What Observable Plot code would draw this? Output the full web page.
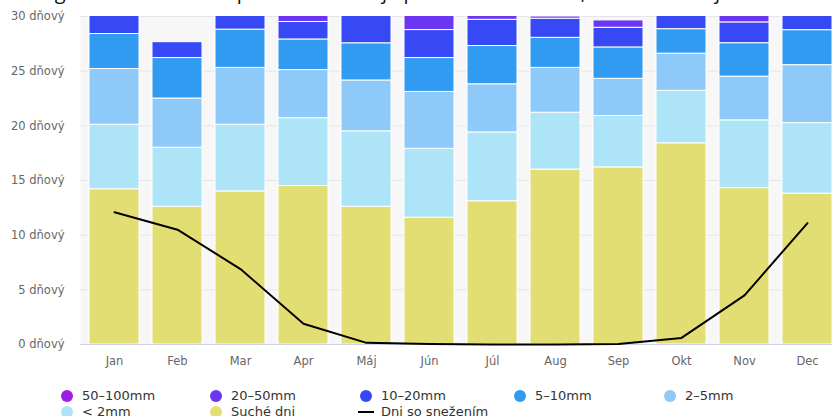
<!DOCTYPE html>
<html><head><meta charset="utf-8">
<script src="https://cdn.jsdelivr.net/npm/d3@7"></script>
<script src="https://cdn.jsdelivr.net/npm/@observablehq/plot@0.6"></script>
<style>
html,body{margin:0;padding:0;background:#fff;overflow:hidden;width:832px;height:416px;}
#wrap{position:relative;width:832px;height:416px;overflow:hidden;font-family:"DejaVu Sans",sans-serif;}
#title{position:absolute;left:24px;top:-20px;font-family:"Open Sans",sans-serif;font-size:20px;line-height:24px;white-space:nowrap;color:#111;}
#chart{position:absolute;left:0;top:0;}
#chart svg{max-width:none !important;}
.item{position:absolute;font-size:13px;line-height:15px;color:#333;white-space:nowrap;}
.sym{position:absolute;}
</style>
</head><body>
<div id="wrap">
  <div id="title">Diagram úhrnu zrážok pre Nitru ukazuje počet dní v mesiaci, ktoré dosahujú určité množstvo zrážok</div>
  <div id="chart"></div>
  <div id="legend"></div>
</div>
<script>
const months = ["Jan","Feb","Mar","Apr","Máj","Jún","Júl","Aug","Sep","Okt","Nov","Dec"];
const seriesNames = ["Suché dni","< 2mm","2–5mm","5–10mm","10–20mm","20–50mm","50–100mm"];
const seriesColors = ["#e3de74","#ade4f7","#8dc9f9","#319bf1","#3748f5","#6a35f3","#9b1ee6"];
const dry      = [14.2,12.6,14.0,14.5,12.6,11.6,13.1,16.0,16.2,18.4,14.3,13.8];
const lt2      = [5.9,5.4,6.1,6.2,6.9,6.3,6.3,5.2,4.7,4.8,6.2,6.45];
const mm2_5    = [5.1,4.5,5.2,4.4,4.65,5.2,4.4,4.1,3.4,3.4,4.0,5.3];
const mm5_10   = [3.2,3.7,3.5,2.8,3.4,3.1,3.5,2.75,2.87,2.24,3.06,3.2];
const mm10_20  = [2.6,1.45,2.2,1.6,3.44,2.56,2.4,1.75,1.8,2.16,1.9,2.2];
const mm20_50  = [0,0,0,0.6,0,1.3,1.3,0.2,0.67,0,0.6,0];
const mm50_100 = [0,0,0,0,0,0,0,0,0,0,0,0];
const snowDays = [12.1,10.5,6.9,1.9,0.15,0.05,0,0,0.05,0.6,4.5,11.1];
const yTicks = [0,5,10,15,20,25,30];
const snowLabel = "Dni so snežením";

const seriesValues = [dry, lt2, mm2_5, mm5_10, mm10_20, mm20_50, mm50_100];
const stacked = [];
months.forEach((m, i) => {
  seriesNames.forEach((s, j) => {
    stacked.push({month: m, series: s, value: seriesValues[j][i]});
  });
});
const snowData = months.map((m, i) => ({month: m, snow: snowDays[i]}));

const chart = Plot.plot({
  width: 841,
  height: 380,
  marginLeft: 80,
  marginRight: 0,
  marginTop: 16,
  marginBottom: 36,
  style: {fontFamily: "DejaVu Sans, sans-serif", fontSize: "11.5px", color: "#666", background: "transparent", overflow: "visible", maxWidth: "none"},
  x: {domain: months, paddingInner: 0.2, paddingOuter: 0.11, tickSize: 0, tickPadding: 12, label: null},
  y: {domain: [0, 30], ticks: yTicks, tickFormat: d => d + " dňový", tickSize: 0, tickPadding: 16, label: null},
  color: {domain: seriesNames, range: seriesColors},
  marks: [
    Plot.frame({fill: "#f7f7f7", stroke: "none"}),
    Plot.ruleY(yTicks.slice(1), {stroke: "#e6e6e6"}),
    Plot.barY(stacked, {x: "month", y: "value", fill: "series", z: "series", stroke: "white", strokeWidth: 1, clip: true}),
    Plot.ruleY([0], {stroke: "#ccd6eb"}),
    Plot.line(snowData, {x: "month", y: "snow", stroke: "#000", strokeWidth: 2})
  ]
});
document.getElementById("chart").appendChild(chart);

// legend
const legend = document.getElementById("legend");
const legendOrder = ["50–100mm","20–50mm","10–20mm","5–10mm","2–5mm","< 2mm","Suché dni", snowLabel];
const colX = [67, 216, 366, 520, 670];
const rowY = [396, 411.5];
legendOrder.forEach((name, k) => {
  const cx = colX[k % 5], cy = rowY[Math.floor(k / 5)];
  const sym = document.createElement("div");
  sym.className = "sym";
  if (name === snowLabel) {
    sym.style.cssText = `left:${cx-8}px;top:${cy-1}px;width:16px;height:2px;background:#000;`;
  } else {
    const c = seriesColors[seriesNames.indexOf(name)];
    sym.style.cssText = `left:${cx-6}px;top:${cy-6}px;width:12px;height:12px;border-radius:6px;background:${c};`;
  }
  legend.appendChild(sym);
  const t = document.createElement("div");
  t.className = "item";
  t.textContent = name;
  t.style.left = (cx + 15) + "px";
  t.style.top = (cy - 8) + "px";
  legend.appendChild(t);
});
</script>
</body></html>
